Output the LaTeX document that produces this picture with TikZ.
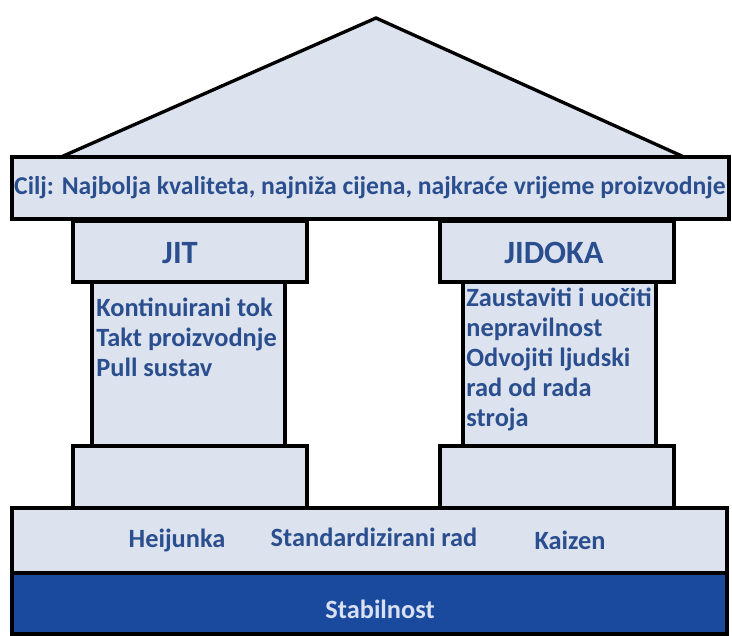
\documentclass[tikz,border=0pt]{standalone}
\usepackage{fontspec}
\setmainfont{Carlito}
\usepackage{tikz}
\usetikzlibrary{positioning}

\definecolor{housefill}{HTML}{DCE3EF}
\definecolor{labelblue}{HTML}{2A4E8E}
\definecolor{basedark}{HTML}{1A4A9E}
\definecolor{baselabel}{HTML}{D8E0F2}

\tikzset{
  part/.style={draw=black,line width=1.9pt,fill=housefill},
  lbl/.style={text=labelblue,inner sep=0pt,font=\bfseries\fontsize{15}{17}\selectfont},
  head/.style={lbl,font=\bfseries\fontsize{18.5}{20}\selectfont},
  items/.style={lbl,align=left,anchor=north west}
}

\begin{document}
\begin{tikzpicture}[x=0.02cm,y=-0.02cm]
      \useasboundingbox (0,0) rectangle (732,635);

      % roof and goal
      \filldraw[part,line join=miter] (61,157) -- (376,18) -- (684,157);
      \filldraw[part] (12,157) rectangle (729,219);
      \node[lbl,font=\bfseries\fontsize{14.6}{17}\selectfont](goal) at (370,188)
        {Cilj: Najbolja kvaliteta, najniža cijena, najkraće vrijeme proizvodnje};

      % left pillar
      \filldraw[part] (92,282) rectangle (285,446);
      \filldraw[part] (73,221) rectangle (307,282);
      \filldraw[part] (73,446) rectangle (307,508);
      \node[head](jit) at (180,253){JIT};
      \node[items](jitlist) at (96,298)
        {Kontinuirani tok\\Takt proizvodnje\\Pull sustav};

      % right pillar
      \filldraw[part] (463,282) rectangle (656,446);
      \filldraw[part] (440,221) rectangle (674,282);
      \filldraw[part] (440,446) rectangle (674,508);
      \node[head](jidoka) at (554,253){JIDOKA};
      \node[items](jidokalist) at (466,288)
        {Zaustaviti i uočiti\\nepravilnost\\Odvojiti ljudski\\rad od rada\\stroja};

      % foundation
      \filldraw[part] (12,508) rectangle (727,573);
      \node[lbl](heijunka) at (177,540){Heijunka};
      \node[lbl](stdrad) at (374,537){Standardizirani rad};
      \node[lbl](kaizen) at (570,540){Kaizen};

      \filldraw[part,fill=basedark] (12,573) rectangle (727,634);
      \node[lbl,text=baselabel](stabilnost) at (380,609){Stabilnost};

    \end{tikzpicture}
\end{document}
